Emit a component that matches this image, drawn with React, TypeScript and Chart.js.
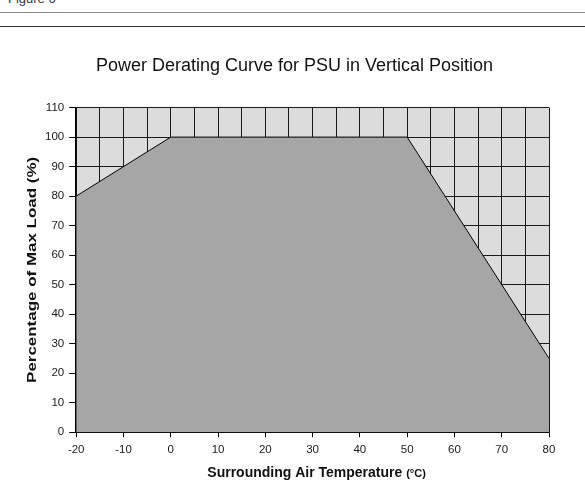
import React, { useEffect, useRef } from "react";
import { Chart, registerables } from "chart.js";

Chart.register(...registerables);

const temps = [-20, 0, 50, 80];
const loads = [80, 100, 100, 25];
const xTicks = [-20, -10, 0, 10, 20, 30, 40, 50, 60, 70, 80];
const yTicks = [0, 10, 20, 30, 40, 50, 60, 70, 80, 90, 100, 110];
const titleText = "Power Derating Curve for PSU in Vertical Position";
const xTitleMain = "Surrounding Air Temperature ";
const xTitleUnit = "(°C)";
const yTitleText = "Percentage of Max Load (%)";

const FONT = "'Liberation Sans', Arial, sans-serif";

const bgPlugin = {
  id: "plotBg",
  beforeDraw(chart: any) {
    const { ctx, chartArea } = chart;
    if (!chartArea) return;
    ctx.save();
    ctx.fillStyle = "#dcdcdc";
    ctx.fillRect(chartArea.left, chartArea.top, chartArea.right - chartArea.left, chartArea.bottom - chartArea.top);
    ctx.restore();
  },
};

const axisTitlePlugin = {
  id: "axisTitles",
  afterDraw(chart: any) {
    const { ctx, chartArea } = chart;
    if (!chartArea) return;
    ctx.save();
    ctx.fillStyle = "#111";
    ctx.textBaseline = "middle";
    ctx.textAlign = "left";
    ctx.font = `bold 14px ${FONT}`;
    const wMain = ctx.measureText(xTitleMain).width;
    ctx.font = `bold 11px ${FONT}`;
    const wUnit = ctx.measureText(xTitleUnit).width;
    const cx = (chartArea.left + chartArea.right) / 2 + 4;
    const x0 = cx - (wMain + wUnit) / 2;
    const yx = chart.height - 10;
    ctx.font = `bold 14px ${FONT}`;
    ctx.fillText(xTitleMain, x0, yx);
    ctx.font = `bold 11px ${FONT}`;
    ctx.fillText(xTitleUnit, x0 + wMain, yx + 1);
    ctx.font = `bold 13px ${FONT}`;
    const wy = ctx.measureText(yTitleText).width;
    const target = 226;
    ctx.translate(32, (chartArea.top + chartArea.bottom) / 2);
    ctx.rotate(-Math.PI / 2);
    ctx.scale(target / wy, 1);
    ctx.textAlign = "center";
    ctx.fillText(yTitleText, 0, 0);
    ctx.restore();
  },
};

export default function App() {
  const ref = useRef<HTMLCanvasElement>(null);
  useEffect(() => {
    if (!ref.current) return;
    const chart = new Chart(ref.current, {
      type: "line",
      data: {
        datasets: [
          {
            data: temps.map((t, i) => ({ x: t, y: loads[i] })),
            borderColor: "#000",
            borderWidth: 1,
            backgroundColor: "#a6a6a6",
            fill: "start",
            pointRadius: 0,
            tension: 0,
          },
        ],
      },
      options: {
        animation: false,
        responsive: false,
        devicePixelRatio: 1,
        layout: { padding: { left: 40, right: 36, top: 0, bottom: 20 } },
        plugins: {
          legend: { display: false },
          tooltip: { enabled: false },
          title: {
            display: true,
            text: titleText,
            color: "#111",
            font: { family: FONT, size: 18, weight: "normal" },
            padding: { top: 20, bottom: 31 },
          },
        },
        scales: {
          x: {
            type: "linear",
            min: -20,
            max: 80,
            afterBuildTicks(axis: any) {
              const t: any[] = [];
              for (let v = xTicks[0]; v <= xTicks[xTicks.length - 1]; v += 5) t.push({ value: v });
              axis.ticks = t;
            },
            ticks: {
              autoSkip: false,
              maxRotation: 0,
              color: "#1a1a1a",
              font: { family: FONT, size: 11.5 },
              padding: 6,
              callback: (v: any) => (xTicks.includes(Number(v)) ? String(v) : ""),
            },
            grid: {
              color: "#1a1a1a",
              lineWidth: 1,
              tickLength: 5,
              tickColor: (c: any) => (c.tick && xTicks.includes(c.tick.value) ? "#000" : "rgba(0,0,0,0)"),
            },
            border: { color: "#000", width: 1.5 },
          },
          y: {
            type: "linear",
            min: 0,
            max: 110,
            afterBuildTicks(axis: any) {
              axis.ticks = yTicks.map((v) => ({ value: v }));
            },
            ticks: {
              autoSkip: false,
              color: "#1a1a1a",
              font: { family: FONT, size: 11.5 },
              padding: 5,
            },
            grid: {
              color: "#1a1a1a",
              lineWidth: 1,
              tickLength: 7,
              tickColor: "#000",
            },
            border: { color: "#000", width: 1.5 },
          },
        },
      },
      plugins: [bgPlugin, axisTitlePlugin],
    });
    return () => chart.destroy();
  }, []);

  return (
    <div style={{ position: "fixed", left: 0, top: 0, width: 585, height: 483, background: "#fff", overflow: "hidden" }}>
      <div style={{ position: "absolute", left: 8, top: -9, font: `13px ${FONT}`, color: "#333", lineHeight: "15px" }}>Figure 6</div>
      <div style={{ position: "absolute", left: 0, top: 12, width: 585, height: 1, background: "#8a8a8a" }} />
      <div style={{ position: "absolute", left: 0, top: 26, width: 585, height: 1, background: "#333" }} />
      <canvas ref={ref} width={585} height={448} style={{ position: "absolute", left: 0, top: 35, width: 585, height: 448 }} />
    </div>
  );
}
